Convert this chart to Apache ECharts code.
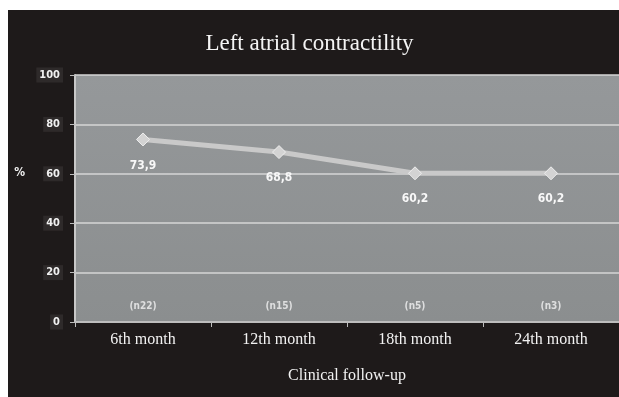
<!DOCTYPE html>
<html><head><meta charset="utf-8">
<script src="https://cdn.jsdelivr.net/npm/echarts@6/dist/echarts.min.js"></script>
<style>
html,body{margin:0;padding:0;background:#fff;}
#bg{position:absolute;left:8px;top:10px;width:611px;height:387px;background:#1e1a1a;}
#chart{position:absolute;left:0;top:0;width:619px;height:397px;}
</style></head><body>
<div id="bg"></div>
<div id="chart"></div>
<script>
const categories = ['6th month','12th month','18th month','24th month'];
const values = [73.9, 68.8, 60.2, 60.2];
const sampleSizes = ['(n22)','(n15)','(n5)','(n3)'];
const yTicks = [0,20,40,60,80,100];

const chart = echarts.init(document.getElementById('chart'), null, {renderer:'canvas'});
const serif = '"Liberation Serif","DejaVu Serif",serif';
const sans = '"DejaVu Sans Condensed","DejaVu Sans",sans-serif';
chart.setOption({
  backgroundColor:'transparent',
  animation:false,
  title:{text:'Left atrial contractility',left:'center',top:27,
    textStyle:{color:'#f4f4f4',fontFamily:serif,fontWeight:'normal',fontSize:23}},
  grid:{left:75,right:-4,top:75,bottom:75,show:true,borderWidth:0,
    backgroundColor:{type:'linear',x:0,y:0,x2:0,y2:1,colorStops:[{offset:0,color:'#95989a'},{offset:1,color:'#8b8e8f'}]}},
  xAxis:{type:'category',data:categories,boundaryGap:true,
    name:'Clinical follow-up',nameLocation:'middle',nameGap:46,
    nameTextStyle:{color:'#f2f2f2',fontFamily:serif,fontSize:16},
    axisLine:{lineStyle:{color:'#bdbdbd',width:2}},
    axisTick:{show:true,length:5,lineStyle:{color:'#bdbdbd'}},
    axisLabel:{color:'#f2f2f2',fontFamily:serif,fontSize:16,margin:10}},
  yAxis:{type:'value',min:0,max:100,interval:20,
    name:'%\n \n \n \n ',nameLocation:'middle',nameGap:50,nameRotate:0,
    nameTextStyle:{color:'#f0f0f0',fontFamily:sans,fontWeight:'bold',fontSize:12,
      lineHeight:13,verticalAlign:'middle'},
    axisLine:{show:true,lineStyle:{color:'#c8c8c8',width:2}},
    axisTick:{show:true,length:5,lineStyle:{color:'#bdbdbd'}},
    splitLine:{lineStyle:{color:'#d6d6d6',width:1.5}},
    axisLabel:{color:'#f0f0f0',fontFamily:sans,fontWeight:'bold',fontSize:11,margin:12,
      backgroundColor:'#2e2a2a',padding:[2,3],
      formatter:v=>yTicks.includes(v)?String(v):''}},
  series:[
    {type:'line',data:values,symbol:'diamond',symbolSize:13,
     lineStyle:{color:'#c9c9c9',width:5},
     itemStyle:{color:'#d3d3d3',borderColor:'#eeeeee',borderWidth:1},
     label:{show:true,position:'bottom',distance:13,color:'#f8f8f8',fontFamily:sans,fontWeight:'bold',fontSize:12,
       formatter:p=>String(p.value).replace('.',',')}},
    {type:'scatter',data:[0,0,0,0],symbolSize:0,silent:true,z:5,
     label:{show:true,position:'top',distance:11,color:'#f2f2f2',fontFamily:sans,fontWeight:'bold',fontSize:10,
       formatter:p=>sampleSizes[p.dataIndex]}}
  ]
});
</script></body></html>
